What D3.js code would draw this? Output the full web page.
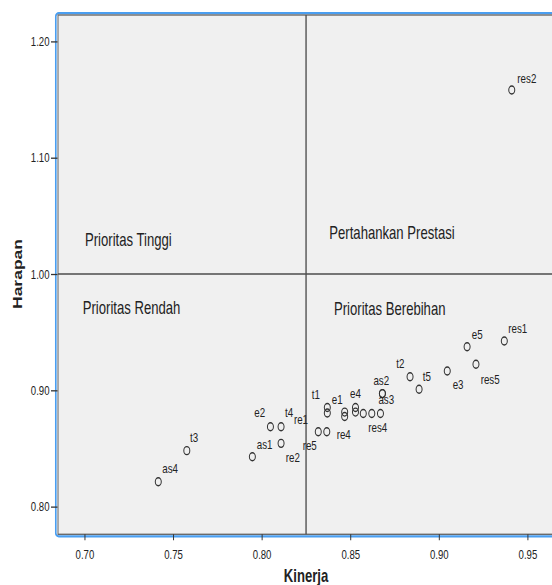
<!DOCTYPE html>
<html>
<head>
<meta charset="utf-8">
<script src="https://cdn.jsdelivr.net/npm/d3@7"></script>
<style>
  body { margin: 0; background: #fff; }
  svg { display: block; }
  text { font-family: "Liberation Sans", Arial, sans-serif; fill: #222; }
</style>
</head>
<body>
<svg id="chart" width="552" height="585"></svg>
<script>

/*
 * DATA
 */

// point labels ("" = point drawn without a label)
var labels = ["as4", "t3", "as1", "e2", "t4", "re2", "re1", "re5", "t1", "e1",
              "", "re4", "e4", "", "res4", "", "", "as2", "as3", "t2",
              "t5", "e3", "res5", "e5", "res1", "res2"];
var kinerja = [0.7416, 0.7577, 0.7947, 0.8049, 0.8109, 0.8109, 0.8319, 0.8367, 0.8370, 0.8370,
               0.8468, 0.8468, 0.8529, 0.8529, 0.8573, 0.8621, 0.8670, 0.8681, 0.8681, 0.8837,
               0.8888, 0.9047, 0.9209, 0.9159, 0.9369, 0.9411];
var harapan = [0.8214, 0.8481, 0.8429, 0.8687, 0.8687, 0.8544, 0.8644, 0.8644, 0.8852, 0.8805,
               0.8813, 0.8775, 0.8852, 0.8813, 0.8801, 0.8801, 0.8801, 0.8972, 0.8972, 0.9117,
               0.9009, 0.9166, 0.9224, 0.9375, 0.9424, 1.1582];

var xTicks = [0.70, 0.75, 0.80, 0.85, 0.90, 0.95];
var yTicks = [0.80, 0.90, 1.00, 1.10, 1.20];

var kinerjaCut = 0.825;
var harapanCut = 1.00;

var quadrantNames = ["Prioritas Tinggi", "Pertahankan Prestasi", "Prioritas Rendah", "Prioritas Berebihan"];
var xTitle = "Kinerja";
var yTitle = "Harapan";

/*
 * LAYOUT
 */

var SX = 0.75; // the picture is squeezed horizontally, text and markers too
function vx(px) { return px / SX; }

// where each point label sits: [dx, dy of text middle, anchor], pixels
var labelSpots = {
  as4: [4, -13.4, 'start'], t3: [3.3, -13, 'start'], as1: [4.4, -12.4, 'start'],
  e2: [-5.3, -14, 'end'], t4: [4, -14.4, 'start'], re2: [4.7, 14.4, 'start'],
  re1: [-10.3, -12.4, 'end'], re5: [-10, 14.3, 'end'], t1: [-7.3, -12.5, 'end'],
  e1: [4.4, -13, 'start'], re4: [-8, 18.5, 'start'], e4: [-5.5, -13.5, 'start'],
  res4: [5, 14.2, 'start'], as2: [-9, -12.8, 'start'], as3: [-4, 5.8, 'start'],
  t2: [-5.7, -13.4, 'end'], t5: [3.7, -12.6, 'start'], e3: [5.4, 14, 'start'],
  res5: [4.7, 15.7, 'start'], e5: [4.7, -11.7, 'start'], res1: [4, -12.7, 'start'],
  res2: [5.6, -11, 'start']
};

// left edge and baseline of the quadrant names
var quadrantSpots = [[85, 246.5], [329.3, 239], [82.7, 314], [334, 315]];

var plot = { left: 58, top: 15, bottom: 534.3, right: 620 };

/*
 * DRAWING
 */

var svg = d3.select('#chart');
var g = svg.append('g').attr('transform', 'scale(' + SX + ',1)');

var x = d3.scaleLinear().domain([0.685, 0.9672]).range([vx(58), vx(558)]);
var y = d3.scaleLinear().domain([0.7762, 1.2227]).range([plot.bottom, plot.top]);

// blue outline round the data area
g.append('rect')
  .attr('x', vx(55.8)).attr('y', 13.2)
  .attr('width', vx(plot.right) - vx(55.8)).attr('height', 536.3 - 13.2)
  .attr('rx', vx(3)).attr('ry', 3)
  .attr('fill', 'none').attr('stroke', '#4a9ef0').attr('stroke-width', 2.2);

g.append('rect')
  .attr('x', vx(plot.left)).attr('y', plot.top)
  .attr('width', vx(plot.right) - vx(plot.left)).attr('height', plot.bottom - plot.top)
  .attr('fill', '#f0f0f0').attr('stroke', '#6a6a6a').attr('stroke-width', 1.4);

// axes
var yAxis = g.append('g')
  .attr('transform', 'translate(' + vx(57.5) + ',0)')
  .call(d3.axisLeft(y).tickValues(yTicks).tickFormat(d3.format('.2f'))
    .tickSizeInner(vx(6.5)).tickSizeOuter(0).tickPadding(vx(1.5)));

var xAxis = g.append('g')
  .attr('transform', 'translate(0,' + plot.bottom + ')')
  .call(d3.axisBottom(x).tickValues(xTicks).tickFormat(d3.format('.2f'))
    .tickSizeInner(6).tickSizeOuter(0).tickPadding(10));

[xAxis, yAxis].forEach(function (a) {
  a.select('.domain').remove();
  a.attr('font-family', null).attr('font-size', null);
  a.selectAll('line').attr('stroke', '#333').attr('stroke-width', 1.3);
  a.selectAll('text').style('font-size', '12.8px').attr('fill', '#222');
});

// quadrant lines
g.append('line')
  .attr('x1', x(kinerjaCut)).attr('x2', x(kinerjaCut))
  .attr('y1', plot.top).attr('y2', plot.bottom)
  .attr('stroke', '#4d4d4d').attr('stroke-width', 1.8);
g.append('line')
  .attr('x1', vx(plot.left)).attr('x2', vx(plot.right))
  .attr('y1', y(harapanCut)).attr('y2', y(harapanCut))
  .attr('stroke', '#4d4d4d').attr('stroke-width', 1.4);

// quadrant names
g.selectAll('.quadrant').data(quadrantNames).enter().append('text')
  .attr('class', 'quadrant')
  .attr('x', function (d, i) { return vx(quadrantSpots[i][0]); })
  .attr('y', function (d, i) { return quadrantSpots[i][1]; })
  .style('font-size', '17.5px')
  .attr('fill', '#222')
  .text(function (d) { return d; });

// points
var points = labels.map(function (name, i) {
  return { name: name, k: kinerja[i], h: harapan[i] };
});

g.selectAll('.pt').data(points).enter().append('circle')
  .attr('class', 'pt')
  .attr('cx', function (d) { return x(d.k); })
  .attr('cy', function (d) { return y(d.h); })
  .attr('r', 4)
  .attr('fill', 'none')
  .attr('stroke', '#333')
  .attr('stroke-width', 1.35);

g.selectAll('.ptlabel').data(points.filter(function (d) { return d.name !== ''; }))
  .enter().append('text')
  .attr('class', 'ptlabel')
  .attr('x', function (d) { return x(d.k) + vx(labelSpots[d.name][0]); })
  .attr('y', function (d) { return y(d.h) + labelSpots[d.name][1] + 4.3; })
  .attr('text-anchor', function (d) { return labelSpots[d.name][2]; })
  .style('font-size', '13px')
  .attr('fill', '#222')
  .text(function (d) { return d.name; });

// axis titles
g.append('text')
  .attr('x', vx(306)).attr('y', 582.5)
  .attr('text-anchor', 'middle')
  .style('font-size', '17.5px').style('font-weight', 'bold')
  .attr('fill', '#111')
  .text(xTitle);

g.append('text')
  .attr('transform', 'translate(' + vx(21.5) + ',' + 274 + ') rotate(-90)')
  .attr('text-anchor', 'middle')
  .style('font-size', '17.5px').style('font-weight', 'bold')
  .attr('fill', '#111')
  .text(yTitle);

</script>
</body>
</html>
